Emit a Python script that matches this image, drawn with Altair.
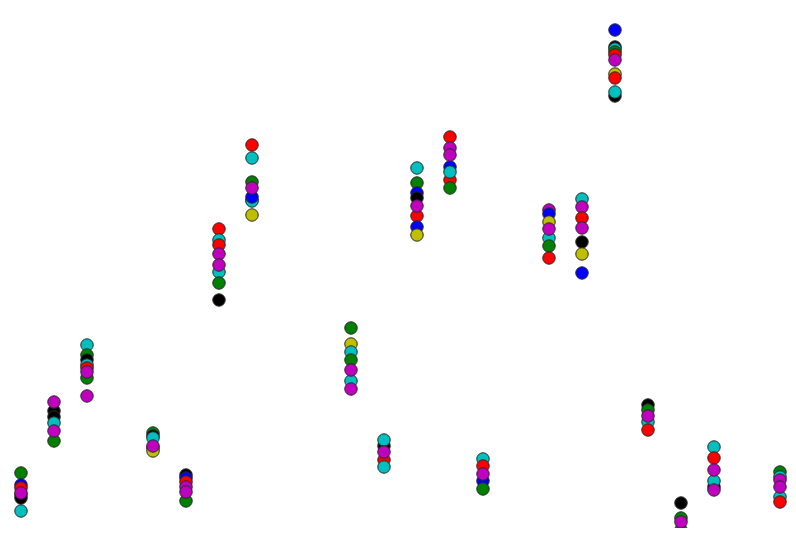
import altair as alt
import pandas as pd

# series colours (matplotlib classic "bgrcmyk")
series_codes = ["b", "g", "r", "c", "y", "k", "m"]
series_colors = ["#0000ff", "#008000", "#ff0000", "#00bfbf", "#bfbf00", "#000000", "#bf00bf"]

# readings per group: (series, value)
g00 = [("g", 63), ("b", 51), ("r", 48), ("y", 41), ("k", 38), ("c", 25), ("m", 43)]
g01 = [("k", 125), ("k", 119), ("c", 113), ("g", 95), ("m", 134), ("m", 105)]
g02 = [("c", 191), ("g", 181), ("k", 176), ("c", 171), ("r", 168), ("g", 158), ("m", 164), ("m", 140)]
g04 = [("g", 103), ("k", 100), ("c", 98), ("r", 88), ("y", 85), ("m", 90)]
g05 = [("k", 61), ("b", 58), ("r", 54), ("g", 35), ("m", 49), ("m", 44)]
g06 = [("r", 307), ("c", 296), ("r", 291), ("c", 264), ("g", 253), ("k", 236), ("m", 282), ("m", 271)]
g07 = [("r", 391), ("c", 378), ("g", 354), ("r", 336), ("c", 335), ("b", 339), ("y", 321), ("m", 348)]
g10 = [("g", 208), ("y", 192), ("c", 184), ("g", 176), ("c", 155), ("m", 166), ("m", 147)]
g11 = [("k", 90), ("c", 96), ("r", 76), ("c", 69), ("m", 84)]
g12 = [("c", 368), ("g", 353), ("b", 343), ("k", 338), ("r", 320), ("b", 309), ("y", 301), ("m", 330)]
g13 = [("r", 399), ("b", 369), ("r", 356), ("c", 364), ("g", 348), ("m", 388), ("m", 381)]
g14 = [("c", 77), ("r", 70), ("b", 55), ("g", 47), ("m", 62)]
g16 = [("m", 326), ("b", 322), ("y", 314), ("c", 298), ("g", 290), ("r", 278), ("m", 307)]
g17 = [("c", 337), ("m", 329), ("r", 318), ("k", 294), ("y", 282), ("b", 263), ("m", 308)]
g18 = [("b", 506), ("k", 489), ("c", 487), ("g", 484), ("r", 481), ("y", 462), ("r", 458),
       ("k", 440), ("c", 444), ("m", 476)]
g19 = [("k", 131), ("g", 126), ("c", 114), ("r", 106), ("m", 120)]
g20 = [("k", 33), ("g", 6), ("g", 18), ("m", 14)]
g21 = [("c", 89), ("r", 78), ("k", 49), ("c", 55), ("m", 46), ("m", 66)]
g23 = [("g", 64), ("c", 59), ("c", 39), ("r", 34), ("m", 56), ("m", 49)]

groups = {0: g00, 1: g01, 2: g02, 4: g04, 5: g05, 6: g06, 7: g07, 10: g10, 11: g11,
          12: g12, 13: g13, 14: g14, 16: g16, 17: g17, 18: g18, 19: g19, 20: g20,
          21: g21, 23: g23}

rows = []
for idx, pts in groups.items():
    for s, v in pts:
        rows.append({"idx": idx, "series": s, "value": v})
df = pd.DataFrame(rows)

chart = alt.Chart(df).mark_circle(
    size=155, opacity=1, stroke="#2a2a2a", strokeWidth=1
).encode(
    x=alt.X("idx:Q", axis=None,
            scale=alt.Scale(domain=[-13 / 33, 767 / 33], nice=False, zero=False)),
    y=alt.Y("value:Q", axis=None,
            scale=alt.Scale(domain=[8, 528], nice=False, zero=False)),
    color=alt.Color("series:N", legend=None,
                    scale=alt.Scale(domain=series_codes, range=series_colors)),
).properties(
    width=780, height=520, padding=0, autosize="none"
).configure_view(
    stroke=None
)

chart.save("out.html", embed_options={"renderer": "svg", "actions": False})
